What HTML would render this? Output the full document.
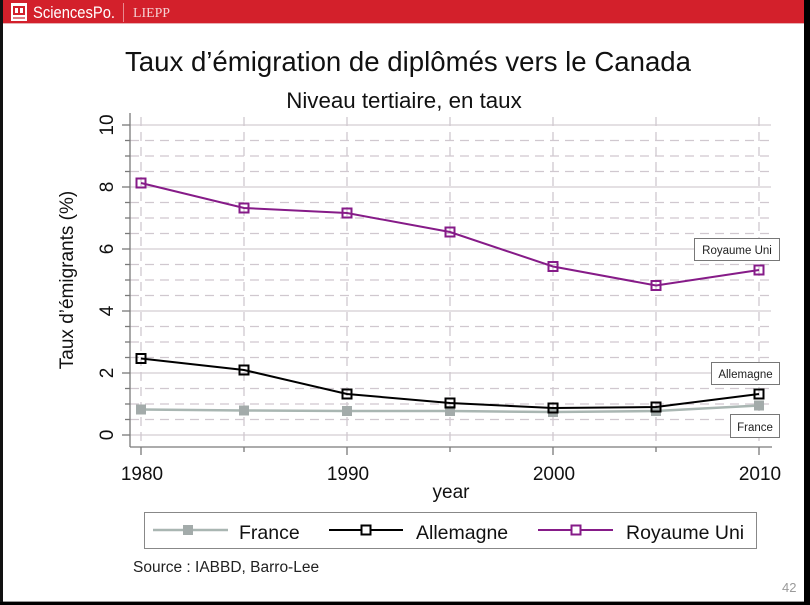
<!DOCTYPE html>
<html><head><meta charset="utf-8">
<style>
html,body{margin:0;padding:0;background:#fff;}
svg{display:block;}
text{font-family:"Liberation Sans",Arial,sans-serif;}
</style></head>
<body>
<svg width="810" height="605" viewBox="0 0 810 605" xmlns="http://www.w3.org/2000/svg">
<rect x="0" y="0" width="810" height="605" fill="#fff"/>
<!-- header -->
<rect x="0" y="0" width="804" height="23" fill="#d3202b"/>
<line x1="0" y1="23.5" x2="804" y2="23.5" stroke="#e8b0b4" stroke-width="1"/>
<rect x="11" y="3" width="16" height="18" fill="#fff"/>
<rect x="13" y="6" width="12" height="9" fill="#d3202b"/>
<rect x="15" y="8" width="3" height="5" fill="#fff"/>
<rect x="20" y="8" width="3" height="5" fill="#fff"/>
<rect x="13" y="17" width="12" height="2" fill="#e07a80"/>
<text x="33" y="18" font-size="17" fill="#fff" textLength="82" lengthAdjust="spacingAndGlyphs">SciencesPo.</text>
<line x1="123.5" y1="3" x2="123.5" y2="22" stroke="#e88a90" stroke-width="1"/>
<text x="133" y="17" font-size="14" fill="#f4d0d2" style="font-family:'Liberation Serif',serif" textLength="37" lengthAdjust="spacingAndGlyphs">LIEPP</text>

<!-- borders -->
<rect x="0" y="0" width="3" height="605" fill="#111"/>
<rect x="804" y="0" width="6" height="605" fill="#000"/>
<rect x="0" y="602" width="810" height="3" fill="#000"/>
<line x1="3" y1="601.5" x2="804" y2="601.5" stroke="#999" stroke-width="1"/>

<!-- titles -->
<text x="408" y="71" font-size="27.6" text-anchor="middle" fill="#111">Taux d’émigration de diplômés vers le Canada</text>
<text x="404" y="108" font-size="22.3" text-anchor="middle" fill="#111">Niveau tertiaire, en taux</text>

<!-- gridlines horizontal -->
<g stroke="#d3cdd2" stroke-width="1.3" fill="none">
  <line x1="130" y1="435" x2="771" y2="435"/>
  <line x1="130" y1="373" x2="771" y2="373"/>
  <line x1="130" y1="311" x2="771" y2="311"/>
  <line x1="130" y1="249" x2="771" y2="249"/>
  <line x1="130" y1="187" x2="771" y2="187"/>
  <line x1="130" y1="125" x2="771" y2="125"/>
</g>
<g stroke="#d0c8cf" stroke-width="1.3" fill="none" stroke-dasharray="9 6">
  <line x1="130" y1="419.5" x2="771" y2="419.5"/>
  <line x1="130" y1="404" x2="771" y2="404"/>
  <line x1="130" y1="388.5" x2="771" y2="388.5"/>
  <line x1="130" y1="357.5" x2="771" y2="357.5"/>
  <line x1="130" y1="342" x2="771" y2="342"/>
  <line x1="130" y1="326.5" x2="771" y2="326.5"/>
  <line x1="130" y1="295.5" x2="771" y2="295.5"/>
  <line x1="130" y1="280" x2="771" y2="280"/>
  <line x1="130" y1="264.5" x2="771" y2="264.5"/>
  <line x1="130" y1="233.5" x2="771" y2="233.5"/>
  <line x1="130" y1="218" x2="771" y2="218"/>
  <line x1="130" y1="202.5" x2="771" y2="202.5"/>
  <line x1="130" y1="171.5" x2="771" y2="171.5"/>
  <line x1="130" y1="156" x2="771" y2="156"/>
  <line x1="130" y1="140.5" x2="771" y2="140.5"/>
</g>
<!-- vertical gridlines -->
<g stroke="#d0c8cf" stroke-width="1.3" fill="none" stroke-dasharray="9 6">
  <line x1="141" y1="117" x2="141" y2="447"/>
  <line x1="244" y1="117" x2="244" y2="447"/>
  <line x1="347" y1="117" x2="347" y2="447"/>
  <line x1="450" y1="117" x2="450" y2="447"/>
  <line x1="553" y1="117" x2="553" y2="447"/>
  <line x1="656" y1="117" x2="656" y2="447"/>
  <line x1="759" y1="117" x2="759" y2="447"/>
</g>

<!-- axes -->
<g stroke="#7a7a7a" stroke-width="1.3" fill="none">
  <line x1="130" y1="113" x2="130" y2="447"/>
  <line x1="130" y1="447" x2="772" y2="447"/>
  <line x1="122" y1="435" x2="130" y2="435"/>
  <line x1="122" y1="373" x2="130" y2="373"/>
  <line x1="122" y1="311" x2="130" y2="311"/>
  <line x1="122" y1="249" x2="130" y2="249"/>
  <line x1="122" y1="187" x2="130" y2="187"/>
  <line x1="122" y1="125" x2="130" y2="125"/>
  <line x1="125" y1="419.5" x2="130" y2="419.5"/>
  <line x1="125" y1="404" x2="130" y2="404"/>
  <line x1="125" y1="388.5" x2="130" y2="388.5"/>
  <line x1="125" y1="357.5" x2="130" y2="357.5"/>
  <line x1="125" y1="342" x2="130" y2="342"/>
  <line x1="125" y1="326.5" x2="130" y2="326.5"/>
  <line x1="125" y1="295.5" x2="130" y2="295.5"/>
  <line x1="125" y1="280" x2="130" y2="280"/>
  <line x1="125" y1="264.5" x2="130" y2="264.5"/>
  <line x1="125" y1="233.5" x2="130" y2="233.5"/>
  <line x1="125" y1="218" x2="130" y2="218"/>
  <line x1="125" y1="202.5" x2="130" y2="202.5"/>
  <line x1="125" y1="171.5" x2="130" y2="171.5"/>
  <line x1="125" y1="156" x2="130" y2="156"/>
  <line x1="125" y1="140.5" x2="130" y2="140.5"/>
  <line x1="141" y1="447" x2="141" y2="455"/>
  <line x1="244" y1="447" x2="244" y2="452"/>
  <line x1="347" y1="447" x2="347" y2="455"/>
  <line x1="450" y1="447" x2="450" y2="452"/>
  <line x1="553" y1="447" x2="553" y2="455"/>
  <line x1="656" y1="447" x2="656" y2="452"/>
  <line x1="759" y1="447" x2="759" y2="455"/>
</g>

<!-- y tick labels (rotated) -->
<g font-size="19" fill="#111" text-anchor="middle">
  <text transform="translate(113,435) rotate(-90)">0</text>
  <text transform="translate(113,373) rotate(-90)">2</text>
  <text transform="translate(113,311) rotate(-90)">4</text>
  <text transform="translate(113,249) rotate(-90)">6</text>
  <text transform="translate(113,187) rotate(-90)">8</text>
  <text transform="translate(113,125) rotate(-90)">10</text>
</g>
<text transform="translate(73,280) rotate(-90)" font-size="19" fill="#111" text-anchor="middle">Taux d’émigrants (%)</text>

<!-- x tick labels -->
<g font-size="19" fill="#111" text-anchor="middle">
  <text x="142" y="480">1980</text>
  <text x="348" y="480">1990</text>
  <text x="554" y="480">2000</text>
  <text x="760" y="480">2010</text>
</g>
<text x="451" y="498" font-size="19" fill="#111" text-anchor="middle">year</text>

<!-- France series -->
<polyline points="141,409.5 244,410.5 347,411 450,411 553,412 656,411 759,405.5" fill="none" stroke="#a9b6b2" stroke-width="2.5"/>
<g fill="#a3abaa">
  <rect x="136" y="404.5" width="10" height="10"/>
  <rect x="239" y="405.5" width="10" height="10"/>
  <rect x="342" y="406" width="10" height="10"/>
  <rect x="445" y="406" width="10" height="10"/>
  <rect x="548" y="407" width="10" height="10"/>
  <rect x="651" y="406" width="10" height="10"/>
  <rect x="754" y="400.5" width="10" height="10"/>
</g>

<!-- Allemagne series -->
<polyline points="141,358.5 244,370 347,394 450,403 553,408 656,407 759,394" fill="none" stroke="#000" stroke-width="2"/>
<g fill="none" stroke="#000" stroke-width="2">
  <rect x="136.5" y="354" width="9" height="9"/>
  <rect x="239.5" y="365.5" width="9" height="9"/>
  <rect x="342.5" y="389.5" width="9" height="9"/>
  <rect x="445.5" y="398.5" width="9" height="9"/>
  <rect x="548.5" y="403.5" width="9" height="9"/>
  <rect x="651.5" y="402.5" width="9" height="9"/>
  <rect x="754.5" y="389.5" width="9" height="9"/>
</g>

<!-- Royaume Uni series -->
<polyline points="141,183 244,208 347,213 450,232 553,266.5 656,285.5 759,270" fill="none" stroke="#861b88" stroke-width="2"/>
<g fill="none" stroke="#861b88" stroke-width="2">
  <rect x="136.5" y="178.5" width="9" height="9"/>
  <rect x="239.5" y="203.5" width="9" height="9"/>
  <rect x="342.5" y="208.5" width="9" height="9"/>
  <rect x="445.5" y="227.5" width="9" height="9"/>
  <rect x="548.5" y="262" width="9" height="9"/>
  <rect x="651.5" y="281" width="9" height="9"/>
  <rect x="754.5" y="265.5" width="9" height="9"/>
</g>

<!-- series labels -->
<g font-size="11.5" fill="#222" text-anchor="middle">
  <rect x="694.5" y="238.5" width="85" height="22" fill="#fff" stroke="#777" stroke-width="1"/>
  <text x="737" y="254">Royaume Uni</text>
  <rect x="711.5" y="362.5" width="68" height="22" fill="#fff" stroke="#777" stroke-width="1"/>
  <text x="745.5" y="378">Allemagne</text>
  <rect x="730.5" y="414.5" width="49" height="23" fill="#fff" stroke="#777" stroke-width="1"/>
  <text x="755" y="431">France</text>
</g>

<!-- legend -->
<rect x="144.5" y="512.5" width="612" height="36" fill="#fff" stroke="#888" stroke-width="1"/>
<line x1="153" y1="530" x2="228" y2="530" stroke="#a9b6b2" stroke-width="2.5"/>
<rect x="183" y="525" width="10" height="10" fill="#a3abaa"/>
<text x="239" y="539" font-size="19.5" fill="#111">France</text>
<line x1="329" y1="530" x2="403" y2="530" stroke="#000" stroke-width="2"/>
<rect x="361.5" y="525.5" width="9" height="9" fill="#fff" stroke="#000" stroke-width="2"/>
<text x="416" y="539" font-size="19.5" fill="#111">Allemagne</text>
<line x1="538" y1="530" x2="613" y2="530" stroke="#861b88" stroke-width="2"/>
<rect x="571.5" y="525.5" width="9" height="9" fill="#fff" stroke="#861b88" stroke-width="2"/>
<text x="626" y="539" font-size="19.5" fill="#111">Royaume Uni</text>

<!-- source -->
<text x="133" y="572" font-size="15.5" fill="#222">Source : IABBD, Barro-Lee</text>
<!-- page number -->
<text x="782" y="592" font-size="13" fill="#9a9a9a">42</text>
</svg>
</body></html>
